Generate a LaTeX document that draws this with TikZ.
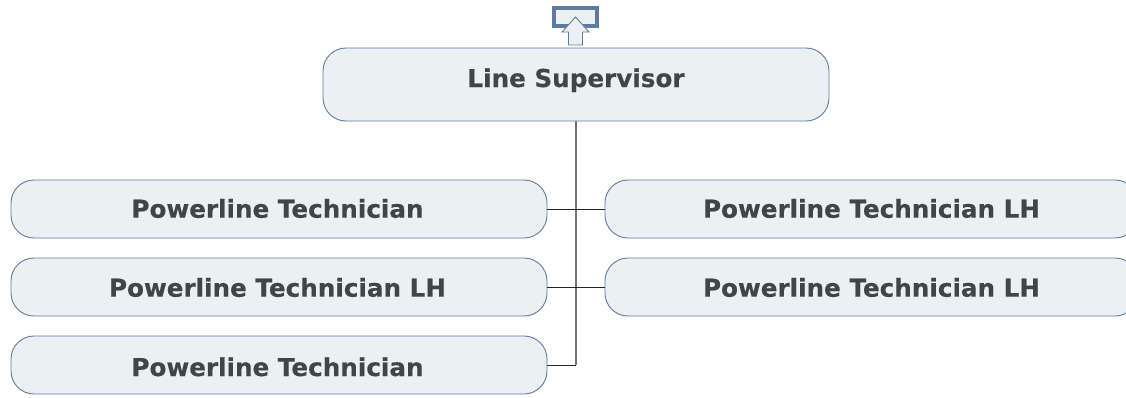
\documentclass[tikz,border=0pt]{standalone}
\usepackage{fontspec}
\setmainfont[BoldFeatures={FakeBold=0.3}]{DejaVu Sans}
\definecolor{boxfill}{HTML}{EBF0F3}
\definecolor{boxline}{HTML}{6079A0}
\definecolor{txt}{HTML}{404548}
\newcommand\lbl[3]{\hspace*{#1pt}\smash{\raisebox{#2pt}{#3}}}
\tikzset{
  x=1pt,y=-1pt,
  orgbox/.style={draw=boxline,fill=boxfill,line width=0.9pt,rounded corners=23pt,anchor=north west,inner sep=0pt,outer sep=0pt,
    text=txt,font=\bfseries\fontsize{24.65}{28}\selectfont,align=center},
  conn/.style={draw=black!85,line width=0.9pt},
  spine/.style={draw=black!55,line width=1.1pt},
}
\begin{document}
\begin{tikzpicture}
\useasboundingbox (0,0) rectangle (1126,397);
\node[draw=boxline,fill=boxfill,line width=4pt,anchor=north west,minimum width=43pt,minimum height=17.5pt,inner sep=0pt,outer sep=0pt] (small) at (554,8) {};
\node[orgbox,minimum width=506pt,minimum height=73pt] (ls) at (323,48) {\lbl{0}{-2.5}{Line Supervisor}};
\node[orgbox,minimum width=536pt,minimum height=58pt] (a) at (11,180) {\lbl{-3}{-8.7}{Powerline Technician}};
\node[orgbox,minimum width=536pt,minimum height=58pt] (b) at (11,258) {\lbl{-3}{-9.7}{Powerline Technician LH}};
\node[orgbox,minimum width=536pt,minimum height=58pt] (c) at (11,336) {\lbl{-3}{-11}{Powerline Technician}};
\node[orgbox,minimum width=533pt,minimum height=58pt] (d) at (605,180) {\lbl{0}{-8.7}{Powerline Technician LH}};
\node[orgbox,minimum width=533pt,minimum height=58pt] (e) at (605,258) {\lbl{0}{-9.7}{Powerline Technician LH}};
\coordinate (up) at (576,121);
\coordinate (corner) at (576,365);
\coordinate (tip) at (575.5,17);
\draw[boxline,fill=boxfill,line width=0.9pt] (tip) -- (589,32) -- (582.5,32) -- (582.5,45) -- (568.5,45) -- (568.5,32) -- (562,32) -- cycle;
\draw[spine] (ls.south -| up) -- (corner);
\draw[conn] (a.east) -- (d.west);
\draw[conn] (b.east) -- (e.west);
\draw[conn] (c.east) -- (corner);
\end{tikzpicture}
\end{document}
